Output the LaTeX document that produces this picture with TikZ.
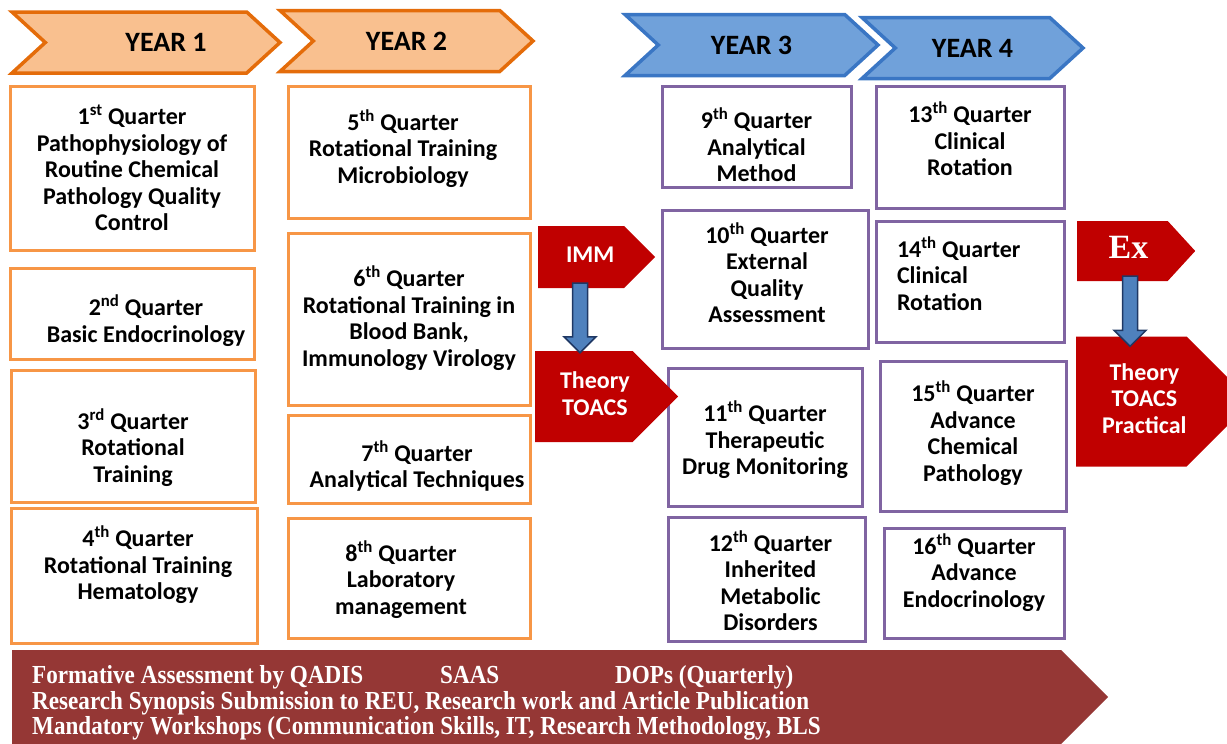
\documentclass[tikz,border=0pt]{standalone}
\usepackage{fontspec}
\setmainfont{Carlito}
\newfontfamily\exfont{Liberation Serif}
\newfontfamily\bandfont{Liberation Serif}[FakeStretch=0.89]
\usetikzlibrary{shapes.symbols, calc}
\definecolor{yearorange}{RGB}{249,192,143}
\definecolor{yearorangeline}{RGB}{228,108,10}
\definecolor{yearblue}{RGB}{112,161,218}
\definecolor{yearblueline}{RGB}{58,118,196}
\definecolor{boxorange}{RGB}{247,150,70}
\definecolor{boxpurple}{RGB}{128,100,162}
\definecolor{examred}{RGB}{192,0,0}
\definecolor{bandred}{RGB}{149,55,53}
\definecolor{arrowblue}{RGB}{79,129,189}
\definecolor{arrowline}{RGB}{31,56,100}

% fat blue arrow: x position, from node, to node, overshoot
\newcommand{\fatarrow}[4]{%
  \coordinate (fa) at (#1,0);
  \draw[fatarrowline] ($(#2.south -| fa)+(-7.5,-5)$) -- ($(#2.south -| fa)+(7.5,-5)$)
    -- ($(#3.north -| fa)+(7.5,#4-16)$) -- ($(#3.north -| fa)+(16,#4-16)$)
    -- ($(#3.north -| fa)+(0,#4)$) -- ($(#3.north -| fa)+(-16,#4-16)$)
    -- ($(#3.north -| fa)+(-7.5,#4-16)$) -- cycle;}
% text of an exam arrow, pushed right by half of #1
\newcommand{\examtext}[2]{\hspace*{#1pt}\begin{tabular}{@{}c@{}}#2\end{tabular}}

\begin{document}
\begin{tikzpicture}[x=1pt, y=-1pt,
    txt/.style={font=\fontsize{24}{26.5}\selectfont\bfseries},
    yearbox/.style={signal, signal from=west, signal to=east, signal pointer angle=85,
      line width=3.5pt, minimum height=61pt, inner sep=0pt, font=\fontsize{28}{30}\selectfont\bfseries},
    ybox1/.style={yearbox, fill=yearorange, draw=yearorangeline},
    ybox2/.style={yearbox, fill=yearblue, draw=yearblueline},
    qbox/.style={draw, line width=3pt, fill=white},
    obox/.style={qbox, draw=boxorange},
    pbox/.style={qbox, draw=boxpurple},
    qtext/.style n args={3}{label={[txt, align=center, xshift=#1pt, yshift=#2pt]center:{#3}}},
    exam/.style={txt, signal, signal to=east, signal pointer angle=90, fill=examred,
      text=white, align=center, inner sep=0pt, anchor=west},
    fatarrowline/.style={fill=arrowblue, draw=arrowline, line width=1.5pt, line join=miter}
  ]
\clip (0,0) rectangle (1227,744);

% year headers
\node[ybox1, minimum width=268pt] (y1) at (146,42.5) {\hspace*{40pt}YEAR 1};
\node[ybox1, minimum width=253pt] (y2) at (406.5,41) {YEAR 2};
\node[ybox2, minimum width=253pt] (y3) at (751.5,45) {YEAR 3};
\node[ybox2, minimum width=221pt] (y4) at (972.5,48) {YEAR 4};

% year 1
\node[obox, minimum width=244pt, minimum height=164pt,
  qtext={0}{0}{1\textsuperscript{st} Quarter\\Pathophysiology of\\Routine Chemical\\Pathology Quality\\Control}] (q1) at (132,168) {};
\node[obox, minimum width=244pt, minimum height=91pt,
  qtext={14}{-6.5}{2\textsuperscript{nd} Quarter\\Basic Endocrinology}] (q2) at (132,314) {};
\node[obox, minimum width=244pt, minimum height=132pt,
  qtext={0}{-11.5}{3\textsuperscript{rd} Quarter\\Rotational\\Training}] (q3) at (133,436) {};
\node[obox, minimum width=246pt, minimum height=135pt,
  qtext={4}{11}{4\textsuperscript{th} Quarter\\Rotational Training\\Hematology}] (q4) at (134,576) {};

% year 2
\node[obox, minimum width=242pt, minimum height=132pt,
  qtext={-6}{3.5}{5\textsuperscript{th} Quarter\\Rotational Training\\Microbiology}] (q5) at (409,152) {};
\node[obox, minimum width=242pt, minimum height=172pt,
  qtext={0}{1}{6\textsuperscript{th} Quarter\\Rotational Training in\\Blood Bank,\\Immunology Virology}] (q6) at (409,319) {};
\node[obox, minimum width=242pt, minimum height=88pt,
  qtext={8}{-7}{7\textsuperscript{th} Quarter\\Analytical Techniques}] (q7) at (409,459) {};
\node[obox, minimum width=242pt, minimum height=120pt,
  qtext={-8}{-1.5}{8\textsuperscript{th} Quarter\\Laboratory\\management}] (q8) at (409,578) {};

% year 3
\node[pbox, minimum width=189pt, minimum height=101pt,
  qtext={0}{-8.5}{9\textsuperscript{th} Quarter\\Analytical\\Method}] (q9) at (756.5,136.5) {};
\node[pbox, minimum width=206pt, minimum height=138pt,
  qtext={2}{6.5}{10\textsuperscript{th} Quarter\\External\\Quality\\Assessment}] (q10) at (765,279) {};
\node[pbox, minimum width=194pt, minimum height=138pt,
  qtext={0}{-3}{11\textsuperscript{th} Quarter\\Therapeutic\\Drug Monitoring}] (q11) at (765,437) {};
\node[pbox, minimum width=197pt, minimum height=124pt,
  qtext={4}{-1.5}{12\textsuperscript{th} Quarter\\Inherited\\Metabolic\\Disorders}] (q12) at (766.5,579) {};

% year 4
\node[pbox, minimum width=188pt, minimum height=122pt,
  qtext={0}{8}{13\textsuperscript{th} Quarter\\Clinical\\Rotation}] (q13) at (970,147) {};
\node[pbox, minimum width=188pt, minimum height=121pt,
  label={[txt, align=left, anchor=west, xshift=19pt, yshift=8pt]west:{14\textsuperscript{th} Quarter\\Clinical\\Rotation}}] (q14) at (970,281.5) {};
\node[pbox, minimum width=186pt, minimum height=150pt,
  qtext={0}{3}{15\textsuperscript{th} Quarter\\Advance\\Chemical\\Pathology}] (q15) at (973,436) {};
\node[pbox, minimum width=180pt, minimum height=110pt,
  qtext={0}{10.5}{16\textsuperscript{th} Quarter\\Advance\\Endocrinology}] (q16) at (974,583) {};

% assessments
\node[exam, minimum width=117pt, minimum height=62pt] (imm) at (538,257) {\examtext{18}{IMM}};
\node[exam, minimum width=143pt, minimum height=91pt] (toacs) at (535,396.5) {\examtext{22}{Theory\\TOACS}};
\node[exam, signal pointer angle=95, minimum width=118pt, minimum height=60pt,
  font=\exfont\fontsize{34}{36}\selectfont\bfseries] (ex) at (1077,251) {\examtext{12}{Ex}};
\node[exam, minimum width=174pt, minimum height=130pt] (final) at (1076,401.5)
  {\examtext{26}{Theory\\TOACS\\Practical}};

\fatarrow{580}{imm}{toacs}{2}
\fatarrow{1130}{ex}{final}{10}

% bottom band
\node[signal, signal to=east, signal pointer angle=90, fill=bandred, anchor=west,
  minimum width=1096pt, minimum height=94pt] (band) at (12,697) {};
\node[anchor=west, text=white, align=left, inner sep=0pt,
  font=\bandfont\bfseries\fontsize{26}{25.5}\selectfont] (bandtext) at (32,703)
  {\makebox[408pt][l]{Formative Assessment by QADIS}\makebox[175pt][l]{SAAS}DOPs (Quarterly)\\
   Research Synopsis Submission to REU, Research work and Article Publication\\
   Mandatory Workshops (Communication Skills, IT, Research Methodology, BLS};
\end{tikzpicture}
\end{document}
